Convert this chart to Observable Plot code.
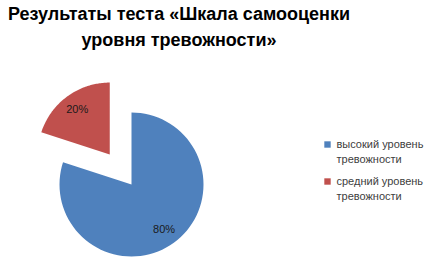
<!DOCTYPE html>
<html><head><meta charset="utf-8">
<script src="https://cdn.jsdelivr.net/npm/d3@7"></script>
<script src="https://cdn.jsdelivr.net/npm/@observablehq/plot@0.6"></script>
<style>
body{margin:0;background:#fff;width:427px;height:260px;overflow:hidden;font-family:"Liberation Sans",Arial,sans-serif}
#title{width:358px;height:58px;text-align:center;font-weight:bold;font-size:18px;line-height:26px;padding-top:1px;box-sizing:border-box;color:#000}
</style></head><body>
<div id="title">Результаты теста «Шкала самооценки<br>уровня тревожности»</div>
<div id="chart"></div>
<script>
const categories = ["высокий уровень тревожности", "средний уровень тревожности"];
const legendLines = [["высокий уровень", "тревожности"], ["средний уровень", "тревожности"]];
const values = [80, 20];
const pctLabels = ["80%", "20%"];
const colors = ["#4F81BD", "#C0504D"];

const cx = 131, cy = 126, R = 72, explode = [0, 37];
const arcs = d3.pie().sort(null)(values);
const poly = [], labs = [];
arcs.forEach((a, i) => {
  const mid = (a.startAngle + a.endAngle) / 2;
  const ox = cx + explode[i] * Math.sin(mid), oy = cy - explode[i] * Math.cos(mid);
  poly.push({k: i, x: ox, y: oy});
  const n = 80;
  for (let j = 0; j <= n; j++) {
    const t = a.startAngle + (a.endAngle - a.startAngle) * j / n;
    poly.push({k: i, x: ox + R * Math.sin(t), y: oy - R * Math.cos(t)});
  }
  poly.push({k: i, x: ox, y: oy});
  labs.push({x: ox + 0.77 * R * Math.sin(mid), y: oy - 0.77 * R * Math.cos(mid), t: pctLabels[i]});
});
const leg = categories.map((c, i) => ({i, x: 327, y: 86 + i * 37, text: legendLines[i].join("\n")}));

const plot = Plot.plot({
  width: 427, height: 202, margin: 0,
  x: {type: "identity", axis: null}, y: {type: "identity", axis: null},
  marks: [
    Plot.line(poly, {x: "x", y: "y", z: "k", fill: d => colors[d.k], stroke: "none", curve: "linear"}),
    Plot.text(labs, {x: "x", y: "y", text: "t", fill: "#1a1a1a", fontSize: 11}),
    Plot.dot(leg, {x: "x", y: "y", symbol: "square", r: 3.6, fill: d => colors[d.i], stroke: "none"}),
    Plot.text(leg, {x: d => d.x + 9, y: d => d.y - 7, text: "text", textAnchor: "start", lineAnchor: "top", lineHeight: 1.36, fontSize: 11, fill: "#404040"})
  ]
});
plot.style.fontFamily = '"Liberation Sans", Arial, sans-serif';
document.getElementById("chart").append(plot);
</script></body></html>
